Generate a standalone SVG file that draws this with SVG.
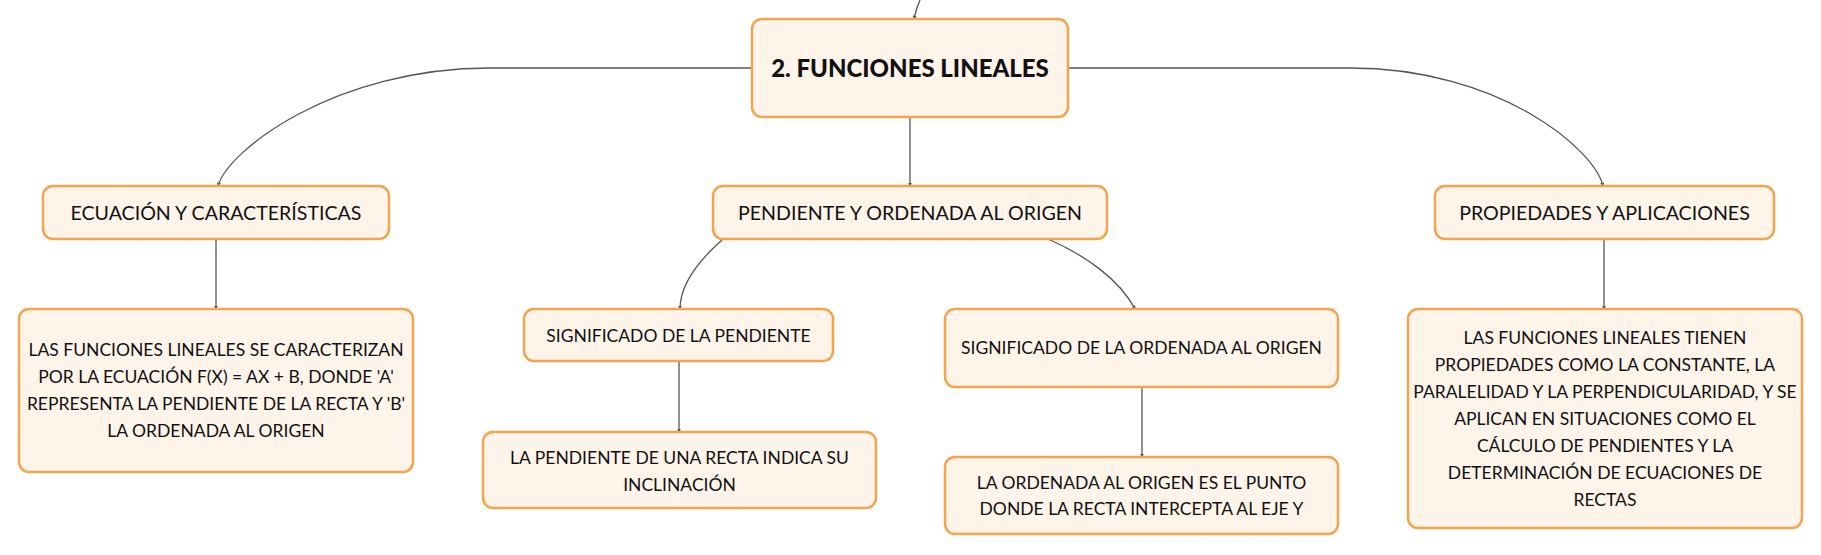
<svg xmlns="http://www.w3.org/2000/svg" width="1821" height="555" viewBox="0 0 1821 555">
<style>
.box{fill:#FEF4EA;stroke:#F2A44F;stroke-width:2.5}
.t{font-family:Lato,"Noto Sans",sans-serif;font-size:17.5px;fill:#111;text-anchor:middle}
.h{font-family:Lato,"Noto Sans",sans-serif;font-size:19.6px;fill:#111;text-anchor:middle}
.title{font-family:Lato,"Noto Sans",sans-serif;font-size:24px;font-weight:900;fill:#111;text-anchor:middle}
.c{fill:none;stroke:#555;stroke-width:1.3;marker-end:url(#arr)}
</style>
<defs>
<marker id="arr" viewBox="0 0 6 6" refX="5" refY="3" markerWidth="4" markerHeight="4" orient="auto" markerUnits="userSpaceOnUse">
<path d="M0,0 L6,3 L0,6 z" fill="#555"/>
</marker>
</defs>
<rect width="1821" height="555" fill="#fff"/>
<g id="connectors">
<path class="c" d="M920,0 Q916,9 914,19"/>
<path class="c" d="M752,68 H490 C335,68 228,150 218,186"/>
<path class="c" d="M910,117 V186"/>
<path class="c" d="M1068,68 H1350 C1500,68 1595,150 1603,186"/>
<path class="c" d="M216,239 V309"/>
<path class="c" d="M722,240 C705,255 680,280 680,309"/>
<path class="c" d="M1048,239 C1085,255 1120,280 1135,309"/>
<path class="c" d="M679,361 V432"/>
<path class="c" d="M1142,387 V457"/>
<path class="c" d="M1604,239 V309"/>
</g>
<g id="main">
<rect class="box" x="752" y="19" width="316" height="98" rx="10"/>
<text class="title" x="910" y="76.5">2. FUNCIONES LINEALES</text>
</g>
<g id="ecuacion">
<rect class="box" x="43" y="186" width="346" height="53" rx="10"/>
<text class="h" x="216" y="220">ECUACIÓN Y CARACTERÍSTICAS</text>
</g>
<g id="pendiente-ordenada">
<rect class="box" x="713" y="186" width="394" height="53" rx="10"/>
<text class="h" x="910" y="220">PENDIENTE Y ORDENADA AL ORIGEN</text>
</g>
<g id="propiedades">
<rect class="box" x="1435" y="186" width="339" height="53" rx="10"/>
<text class="h" x="1604.5" y="220">PROPIEDADES Y APLICACIONES</text>
</g>
<g id="ecuacion-desc">
<rect class="box" x="19" y="309" width="394" height="163" rx="10"/>
<text class="t" x="216" y="355.5">LAS FUNCIONES LINEALES SE CARACTERIZAN</text>
<text class="t" x="216" y="382.5">POR LA ECUACIÓN F(X) = AX + B, DONDE 'A'</text>
<text class="t" x="216" y="409.5">REPRESENTA LA PENDIENTE DE LA RECTA Y 'B'</text>
<text class="t" x="216" y="436.5">LA ORDENADA AL ORIGEN</text>
</g>
<g id="significado-pendiente">
<rect class="box" x="524" y="309" width="309" height="52" rx="10"/>
<text class="t" x="678.5" y="341.5">SIGNIFICADO DE LA PENDIENTE</text>
</g>
<g id="pendiente-desc">
<rect class="box" x="483" y="432" width="393" height="76" rx="10"/>
<text class="t" x="679.5" y="463.5">LA PENDIENTE DE UNA RECTA INDICA SU</text>
<text class="t" x="679.5" y="490.5">INCLINACIÓN</text>
</g>
<g id="significado-ordenada">
<rect class="box" x="945" y="309" width="393" height="78" rx="10"/>
<text class="t" x="1141.5" y="353.5">SIGNIFICADO DE LA ORDENADA AL ORIGEN</text>
</g>
<g id="ordenada-desc">
<rect class="box" x="945" y="457" width="393" height="77" rx="10"/>
<text class="t" x="1141.5" y="488.5">LA ORDENADA AL ORIGEN ES EL PUNTO</text>
<text class="t" x="1141.5" y="514.5">DONDE LA RECTA INTERCEPTA AL EJE Y</text>
</g>
<g id="propiedades-desc">
<rect class="box" x="1408" y="309" width="394" height="219" rx="10"/>
<text class="t" x="1605" y="343.5">LAS FUNCIONES LINEALES TIENEN</text>
<text class="t" x="1605" y="370.5">PROPIEDADES COMO LA CONSTANTE, LA</text>
<text class="t" x="1605" y="397.5">PARALELIDAD Y LA PERPENDICULARIDAD, Y SE</text>
<text class="t" x="1605" y="424.5">APLICAN EN SITUACIONES COMO EL</text>
<text class="t" x="1605" y="451.5">CÁLCULO DE PENDIENTES Y LA</text>
<text class="t" x="1605" y="478.5">DETERMINACIÓN DE ECUACIONES DE</text>
<text class="t" x="1605" y="505.5">RECTAS</text>
</g>
</svg>
